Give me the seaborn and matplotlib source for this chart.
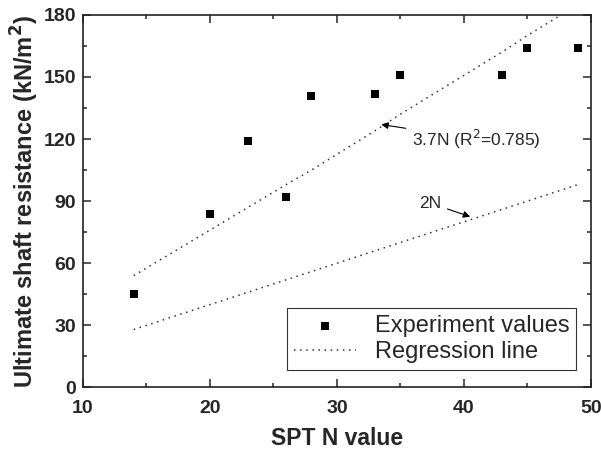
import matplotlib
matplotlib.use("Agg")
import matplotlib.pyplot as plt
import seaborn as sns
from matplotlib.ticker import MultipleLocator

# data
spt_n = [14, 20, 23, 26, 28, 33, 35, 43, 45, 49]
shaft_res = [45, 84, 119, 92, 141, 142, 151, 151, 164, 164]
fit_37n = [54, 76, 87, 98, 105, 124, 132, 162, 170, 185]
fit_2n = [28, 40, 46, 52, 56, 66, 70, 86, 90, 98]

sns.set_style("ticks")
plt.rcParams['font.family'] = ['Liberation Sans', 'DejaVu Sans']

fig = plt.figure(figsize=(6.01, 4.5), dpi=100)
ax = fig.add_axes([0.138, 0.139, 0.845, 0.828])

sns.lineplot(x=spt_n, y=fit_37n, ax=ax, color='#333333', linewidth=1.1,
             linestyle=(0, (1, 3)), label='Regression line')
sns.lineplot(x=spt_n, y=fit_2n, ax=ax, color='#333333', linewidth=1.1,
             linestyle=(0, (1, 3)))
sns.scatterplot(x=spt_n, y=shaft_res, ax=ax, marker='s', s=40, color='black',
                edgecolor='black', linewidth=0, label='Experiment values')

ax.set_xlim(10, 50)
ax.set_ylim(0, 180)
ax.xaxis.set_major_locator(MultipleLocator(10))
ax.xaxis.set_minor_locator(MultipleLocator(5))
ax.yaxis.set_major_locator(MultipleLocator(30))
ax.yaxis.set_minor_locator(MultipleLocator(15))
ax.tick_params(which='both', direction='in', top=True, right=True, width=1.1)
ax.tick_params(which='major', length=6, labelsize=14)
ax.tick_params(which='minor', length=3)
ax.tick_params(axis='x', which='major', pad=9)
ax.tick_params(axis='y', which='major', pad=5)
for lab in ax.get_xticklabels() + ax.get_yticklabels():
    lab.set_fontweight('bold')
for sp in ax.spines.values():
    sp.set_linewidth(1.2)
    sp.set_color('#222222')

ax.set_xlabel('SPT N value', fontsize=16.5, fontweight='bold', labelpad=7)
ax.set_ylabel('Ultimate shaft resistance (kN/m$^\\mathbf{2}$)', fontsize=17,
              fontweight='bold', labelpad=2)

ax.annotate('3.7N (R$^2$=0.785)', xy=(33.5, 127), xytext=(35.9, 120),
            fontsize=12.5, va='center', ha='left',
            arrowprops=dict(arrowstyle='-|>', color='black', lw=0.8,
                            mutation_scale=10, shrinkA=2, shrinkB=0))
ax.annotate('2N', xy=(40.5, 82.5), xytext=(36.5, 89),
            fontsize=12.5, va='center', ha='left',
            arrowprops=dict(arrowstyle='-|>', color='black', lw=0.8,
                            mutation_scale=10, shrinkA=2, shrinkB=0))

handles, labels = ax.get_legend_handles_labels()
order = [labels.index('Experiment values'), labels.index('Regression line')]
leg = ax.legend([handles[i] for i in order], [labels[i] for i in order],
                loc='lower right', fontsize=17, frameon=True, fancybox=False,
                edgecolor='black', borderpad=0.3, labelspacing=0.15,
                handlelength=2.6, bbox_to_anchor=(0.995, 0.015))
leg.get_frame().set_linewidth(0.8)

fig.savefig('out.png', dpi=100)
